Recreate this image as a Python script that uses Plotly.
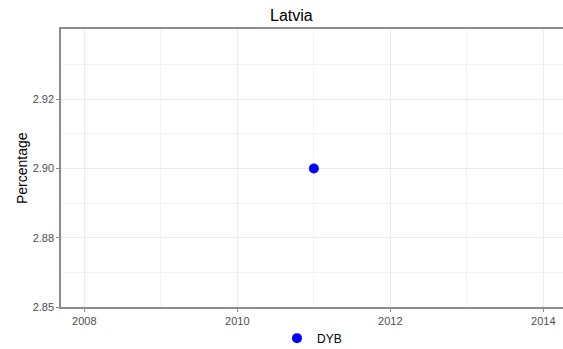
import plotly.graph_objects as go

years = [2011]
values = [2.90]
series_name = "DYB"
title_text = "Latvia"
y_tickvals = [2.86, 2.88, 2.90, 2.92]
y_ticktext = ["2.85", "2.88", "2.90", "2.92"]
x_tickvals = [2008, 2010, 2012, 2014]

FIG_W, FIG_H = 563, 349
L, T, B, R = 61, 29, 42, 0
PLOT_W = FIG_W - L - R

fig = go.Figure()
fig.add_trace(go.Scatter(
    x=years, y=values, mode="markers", name=series_name,
    marker=dict(color="#0000FF", size=10),
))

font_family = "Liberation Sans, Arial, sans-serif"
fig.update_layout(
    width=FIG_W, height=FIG_H,
    margin=dict(l=L, r=R, t=T, b=B, autoexpand=False),
    paper_bgcolor="white", plot_bgcolor="white",
    font=dict(family=font_family, color="#4d4d4d", size=11),
    showlegend=True,
    legend=dict(orientation="h", x=(277 - L) / PLOT_W, xanchor="left", y=-0.112, yanchor="middle",
                font=dict(size=12, color="black"), bgcolor="rgba(0,0,0,0)"),
    annotations=[
        dict(text=title_text, x=(291 - L) / PLOT_W, y=1, xref="paper", yref="paper",
             xanchor="center", yanchor="bottom", yshift=3, showarrow=False,
             font=dict(size=16, color="black", family=font_family)),
        dict(text="Percentage", x=(22 - L) / PLOT_W, y=0.5, xref="paper", yref="paper",
             showarrow=False, textangle=-90, font=dict(size=14, color="black"),
             xanchor="center", yanchor="middle"),
    ],
)

fig.update_xaxes(
    range=[2007.695, 2014.257], tickvals=x_tickvals, ticktext=[str(v) for v in x_tickvals],
    automargin=False, ticklabeloverflow="allow",
    showgrid=True, gridcolor="#ebebeb", gridwidth=1,
    minor=dict(tickvals=[2009, 2011, 2013], showgrid=True, gridcolor="#f3f3f3", gridwidth=1),
    showline=True, linecolor="#8c8c8c", linewidth=1.5, mirror=True,
    ticks="outside", ticklen=3, tickcolor="#8c8c8c",
    zeroline=False, tickfont=dict(size=11, color="#4d4d4d"),
)
fig.update_yaxes(
    range=[2.86, 2.9403], tickvals=y_tickvals, ticktext=y_ticktext,
    automargin=False,
    showgrid=True, gridcolor="#ebebeb", gridwidth=1,
    minor=dict(tickvals=[2.87, 2.89, 2.91, 2.93], showgrid=True, gridcolor="#f3f3f3", gridwidth=1),
    showline=True, linecolor="#8c8c8c", linewidth=1.5,
    ticks="outside", ticklen=3, tickcolor="#8c8c8c",
    zeroline=False, tickfont=dict(size=11, color="#4d4d4d"),
)

fig.write_html("out.html", config={"displayModeBar": False},
               post_script="document.body.style.margin='0';")
